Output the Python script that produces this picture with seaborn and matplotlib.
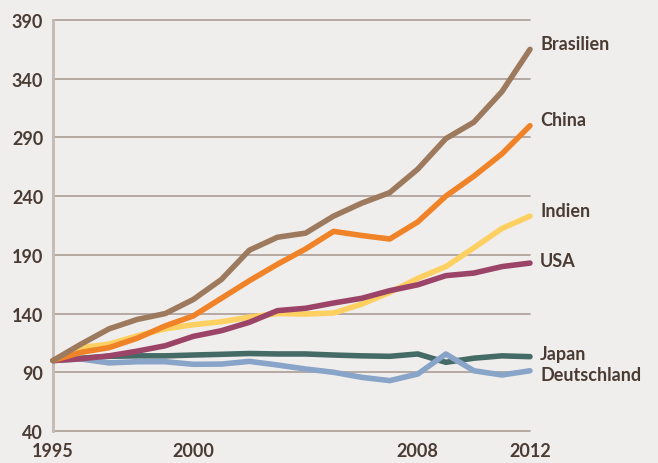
import matplotlib
matplotlib.use("Agg")
import matplotlib.pyplot as plt
import seaborn as sns
import pandas as pd

years = list(range(1995, 2013))
brasilien = [100, 114, 127, 135, 140, 152, 169, 194, 205, 208.5, 223, 234, 243, 263, 289, 303, 329, 365]
china = [100, 107, 111, 119, 129.5, 138, 153, 168, 182, 195, 210, 206.5, 203.5, 218, 240, 257, 276, 300]
indien = [100, 111, 114, 121, 127, 130.5, 133, 137, 140, 139.6, 140.5, 148, 158, 170, 180, 196, 212.5, 223]
usa = [100, 101.5, 104, 108, 112.6, 120.6, 125.4, 132.6, 142.5, 144.5, 149, 153, 159.5, 164.5, 172.3, 174.5, 180, 183]
japan = [100, 102, 103.6, 104, 104, 104.7, 105.3, 106, 105.6, 105.6, 104.7, 104, 103.6, 105.6, 98.5, 102, 104, 103.3]
deutschland = [100, 101.3, 98, 99, 99, 96.8, 97, 99.3, 96.2, 92.8, 90, 85.7, 82.9, 88.5, 105.6, 91.3, 87.7, 91.3]

series_names = ["Japan", "Deutschland", "Indien", "USA", "China", "Brasilien"]
series_values = [japan, deutschland, indien, usa, china, brasilien]
colors = ["#456b67", "#88a4c8", "#fdd061", "#9b4468", "#f08227", "#9d7a5e"]
label_shift = {"Brasilien": 5, "China": 5, "Indien": 5, "USA": 2.5, "Japan": 3, "Deutschland": -3.6}

y_ticks = [40, 90, 140, 190, 240, 290, 340, 390]
x_labels = {1995: "1995", 2000: "2000", 2008: "2008", 2012: "2012"}

bg = "#f0eeec"
grid_c = "#aa9e96"
text_c = "#4a3b33"

rows = []
for name, vals in zip(series_names, series_values):
    for y, v in zip(years, vals):
        rows.append({"Jahr": y, "Wert": v, "Land": name})
df = pd.DataFrame(rows)

sns.set_style("white")
plt.rcParams["font.family"] = ["Lato", "DejaVu Sans"]

fig = plt.figure(figsize=(6.58, 4.64), dpi=100, facecolor=bg)
ax = fig.add_axes([53/658, 1-432/464, (530-53)/658, (432-21)/464])
ax.set_facecolor(bg)

for y in y_ticks:
    ax.axhline(y, color=grid_c, lw=1.2, zorder=1)

sns.lineplot(data=df, x="Jahr", y="Wert", hue="Land", hue_order=series_names,
             palette=dict(zip(series_names, colors)), linewidth=4, legend=False,
             ax=ax, zorder=3, solid_capstyle="round", solid_joinstyle="round")
for ln in ax.get_lines():
    ln.set_clip_on(False)

for name, vals, c in zip(series_names, series_values, colors):
    ax.annotate(name, xy=(years[-1], vals[-1] + label_shift[name]), xytext=(10, 0),
                textcoords="offset pixels", va="center", ha="left",
                fontsize=13, fontweight="bold", color=text_c, annotation_clip=False)

ax.set_xlim(1995, 2012)
ax.set_ylim(40, 390)
ax.set_yticks(y_ticks)
ax.set_yticklabels([str(v) for v in y_ticks])
ax.set_xticks(years)
ax.set_xticklabels([x_labels.get(y, "") for y in years])
ax.set_xlabel("")
ax.set_ylabel("")

for s in ["top", "right", "bottom"]:
    ax.spines[s].set_visible(False)
ax.spines["left"].set_color("#c3b9b2")
ax.spines["left"].set_linewidth(2)
ax.spines["left"].set_zorder(2)

ax.tick_params(axis="y", length=3, width=1.2, color=grid_c, pad=4,
               labelsize=13, labelcolor=text_c)
ax.tick_params(axis="x", length=4, width=1.2, color=grid_c, pad=4,
               labelsize=13, labelcolor=text_c, direction="out")
for lab in ax.get_xticklabels() + ax.get_yticklabels():
    lab.set_fontweight("bold")

fig.savefig("out.png", dpi=100, facecolor=bg)
